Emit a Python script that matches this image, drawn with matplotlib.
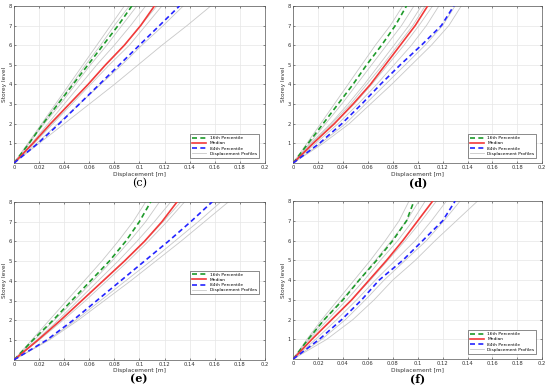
import numpy as np
import matplotlib.pyplot as plt

# storey levels (0..8)
storeys = [0, 1, 2, 3, 4, 5, 6, 7, 8]

# panel (c)
c_p16 = [0, 0.012, 0.023, 0.035, 0.047, 0.059, 0.071, 0.083, 0.094]
c_med = [0, 0.015, 0.029, 0.044, 0.059, 0.073, 0.088, 0.101, 0.112]
c_p84 = [0, 0.019, 0.036, 0.052, 0.068, 0.084, 0.100, 0.116, 0.132]
c_profiles = [
    [0, 0.011, 0.022, 0.033, 0.044, 0.055, 0.066, 0.077, 0.088],
    [0, 0.0115, 0.023, 0.0345, 0.046, 0.057, 0.069, 0.080, 0.092],
    [0, 0.012, 0.024, 0.037, 0.049, 0.061, 0.074, 0.086, 0.098],
    [0, 0.014, 0.027, 0.040, 0.053, 0.066, 0.080, 0.093, 0.105],
    [0, 0.015, 0.030, 0.044, 0.059, 0.073, 0.088, 0.101, 0.114],
    [0, 0.016, 0.031, 0.046, 0.061, 0.076, 0.092, 0.105, 0.118],
    [0, 0.018, 0.035, 0.052, 0.069, 0.086, 0.102, 0.119, 0.135],
    [0, 0.020, 0.040, 0.060, 0.080, 0.099, 0.118, 0.138, 0.157],
]

# panel (d)
d_p16 = [0, 0.012, 0.024, 0.036, 0.048, 0.059, 0.071, 0.082, 0.091]
d_med = [0, 0.016, 0.033, 0.048, 0.062, 0.074, 0.086, 0.098, 0.108]
d_p84 = [0, 0.021, 0.039, 0.055, 0.070, 0.086, 0.103, 0.119, 0.129]
d_profiles = [
    [0, 0.011, 0.022, 0.033, 0.044, 0.055, 0.066, 0.078, 0.088],
    [0, 0.013, 0.026, 0.039, 0.051, 0.063, 0.075, 0.087, 0.097],
    [0, 0.014, 0.030, 0.044, 0.057, 0.069, 0.081, 0.093, 0.103],
    [0, 0.015, 0.031, 0.046, 0.059, 0.072, 0.084, 0.096, 0.106],
    [0, 0.016, 0.033, 0.049, 0.063, 0.076, 0.089, 0.101, 0.112],
    [0, 0.018, 0.036, 0.052, 0.067, 0.081, 0.095, 0.107, 0.117],
    [0, 0.022, 0.042, 0.058, 0.074, 0.090, 0.106, 0.120, 0.130],
    [0, 0.024, 0.045, 0.062, 0.079, 0.095, 0.111, 0.125, 0.135],
]

# panel (e)
e_p16 = [0, 0.015, 0.031, 0.046, 0.061, 0.076, 0.089, 0.100, 0.109]
e_med = [0, 0.019, 0.037, 0.054, 0.071, 0.088, 0.104, 0.118, 0.130]
e_p84 = [0, 0.026, 0.047, 0.066, 0.085, 0.104, 0.123, 0.141, 0.158]
e_profiles = [
    [0, 0.014, 0.028, 0.042, 0.056, 0.070, 0.083, 0.095, 0.105],
    [0, 0.016, 0.032, 0.048, 0.063, 0.078, 0.092, 0.105, 0.116],
    [0, 0.018, 0.035, 0.051, 0.067, 0.083, 0.098, 0.112, 0.125],
    [0, 0.019, 0.037, 0.054, 0.071, 0.088, 0.104, 0.119, 0.133],
    [0, 0.020, 0.039, 0.057, 0.074, 0.091, 0.107, 0.122, 0.136],
    [0, 0.027, 0.049, 0.069, 0.089, 0.109, 0.128, 0.147, 0.165],
    [0, 0.028, 0.051, 0.072, 0.093, 0.113, 0.133, 0.152, 0.171],
]

# panel (f)
f_p16 = [0, 0.012, 0.025, 0.040, 0.053, 0.067, 0.080, 0.091, 0.097]
f_med = [0, 0.015, 0.031, 0.047, 0.061, 0.075, 0.088, 0.100, 0.112]
f_p84 = [0, 0.021, 0.039, 0.055, 0.069, 0.088, 0.104, 0.120, 0.130]
f_profiles = [
    [0, 0.011, 0.023, 0.036, 0.049, 0.062, 0.074, 0.085, 0.093],
    [0, 0.012, 0.025, 0.039, 0.053, 0.066, 0.079, 0.091, 0.101],
    [0, 0.013, 0.028, 0.043, 0.057, 0.070, 0.084, 0.096, 0.106],
    [0, 0.015, 0.031, 0.047, 0.062, 0.076, 0.090, 0.103, 0.115],
    [0, 0.018, 0.035, 0.051, 0.066, 0.082, 0.098, 0.111, 0.123],
    [0, 0.023, 0.042, 0.058, 0.073, 0.090, 0.107, 0.121, 0.134],
    [0, 0.027, 0.048, 0.065, 0.080, 0.098, 0.114, 0.131, 0.148],
]

panel_labels = ['(c)', '(d)', '(e)', '(f)']
x_ticks = [0, 0.02, 0.04, 0.06, 0.08, 0.1, 0.12, 0.14, 0.16, 0.18, 0.2]
x_tick_labels = ['0', '0.02', '0.04', '0.06', '0.08', '0.1', '0.12', '0.14', '0.16', '0.18', '0.2']
y_ticks = [1, 2, 3, 4, 5, 6, 7, 8]

panels = [
    (c_p16, c_med, c_p84, c_profiles),
    (d_p16, d_med, d_p84, d_profiles),
    (e_p16, e_med, e_p84, e_profiles),
    (f_p16, f_med, f_p84, f_profiles),
]

# axes rectangles in figure fraction (left, bottom, width, height)
rects = [
    (0.0255, 0.584, 0.456, 0.401),
    (0.533, 0.584, 0.453, 0.401),
    (0.0255, 0.082, 0.456, 0.403),
    (0.533, 0.084, 0.453, 0.403),
]
label_pos = [(0.253, 0.533), (0.76, 0.533), (0.253, 0.033), (0.76, 0.035)]

fig = plt.figure(figsize=(5.5, 3.92), dpi=100)

for i, (p16, med, p84, profiles) in enumerate(panels):
    ax = fig.add_axes(rects[i])
    for prof in profiles:
        ax.plot(prof, storeys, color='#c8c8c8', lw=0.6, zorder=2)
    ax.plot(p16, storeys, color='#1e9a2a', lw=1.2, dashes=(3, 2), label='16th Percentile', zorder=4)
    ax.plot(med, storeys, color='#f23a3a', lw=1.2, label='Median', zorder=4)
    ax.plot(p84, storeys, color='#2424ff', lw=1.2, dashes=(3, 2), label='84th Percentile', zorder=4)
    ax.plot([], [], color='#c8c8c8', lw=0.6, label='Displacement Profiles')

    ax.set_xlim(0, 0.2)
    ax.set_ylim(0, 8)
    ax.set_xticks(x_ticks)
    ax.set_xticklabels(x_tick_labels)
    ax.set_yticks(y_ticks)
    ax.grid(True, color='#e6e6e6', lw=0.5)
    ax.set_axisbelow(True)
    ax.tick_params(direction='in', length=1.5, width=0.4, labelsize=3.8, pad=1.5,
                   colors='#333333', top=True, right=True)
    for s in ax.spines.values():
        s.set_linewidth(0.5)
        s.set_color('#555555')
    ax.set_xlabel('Displacement [m]', fontsize=4.2, labelpad=1, color='#333333')
    ax.set_ylabel('Storey level', fontsize=4.2, labelpad=1, color='#333333')

    if i == 2:
        leg = ax.legend(loc='center right', bbox_to_anchor=(0.985, 0.49), fontsize=3.2,
                        fancybox=False, edgecolor='#333333', framealpha=1,
                        handlelength=3.2, borderpad=0.4, labelspacing=0.25, handletextpad=0.8)
    else:
        leg = ax.legend(loc='lower right', bbox_to_anchor=(0.985, 0.02), fontsize=3.2,
                        fancybox=False, edgecolor='#333333', framealpha=1,
                        handlelength=3.2, borderpad=0.4, labelspacing=0.25, handletextpad=0.8)
    leg.get_frame().set_linewidth(0.4)

    fig.text(label_pos[i][0], label_pos[i][1], panel_labels[i], fontsize=8,
             family='DejaVu Serif', ha='center', va='center',
             fontweight='normal' if i == 0 else 'bold')

fig.savefig('out.png', dpi=100)
